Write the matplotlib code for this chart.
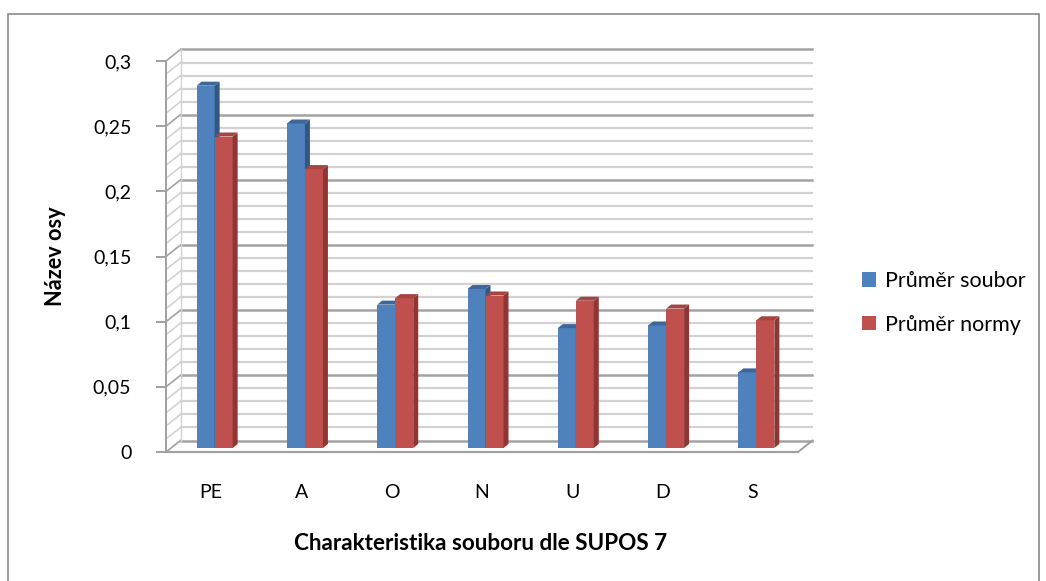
import matplotlib
matplotlib.use("Agg")
import matplotlib.pyplot as plt
from matplotlib.patches import Polygon, Rectangle, Patch
import numpy as np

# data
kategorie = ["PE", "A", "O", "N", "U", "D", "S"]
prumer_soubor = [0.278, 0.249, 0.110, 0.122, 0.092, 0.094, 0.058]
prumer_normy = [0.239, 0.214, 0.115, 0.117, 0.113, 0.107, 0.098]
serie = ["Průměr soubor", "Průměr normy"]
y_ticks = [0, 0.05, 0.1, 0.15, 0.2, 0.25, 0.3]

MODRA = ("#4F81BD", "#34577F", "#3D679A")   # front, side, top
CERVENA = ("#C0504D", "#8A3735", "#A54441")
GRID_MINOR, GRID_MAJOR, OSA = "#d2d2d2", "#a3a3a3", "#a0a0a0"

plt.rcParams.update({"font.family": ["Lato", "DejaVu Sans"], "font.size": 14})

W, H = 1046, 581
fig = plt.figure(figsize=(W / 100, H / 100), dpi=100)
# axes placed on pixel layout of the original
x0, x1, yb, yt = 166, 798, 452, 61
ax = fig.add_axes([x0 / W, 1 - yb / H, (x1 - x0) / W, (yb - yt) / H])
n = len(kategorie)
ax.set_xlim(-0.5, n - 0.5)
ax.set_ylim(0, 0.3)
for s in ax.spines.values():
    s.set_visible(False)

sx = n / (x1 - x0)          # data units per pixel
sy = 0.3 / (yb - yt)
dxw, dyw = 14.5 * sx, 11.5 * sy   # back wall offset
L, R = -0.5, n - 0.5

# back wall + side wall grid
for v in np.arange(0, 0.3001, 0.01):
    major = abs(v / 0.05 - round(v / 0.05)) < 1e-6
    c = GRID_MAJOR if major else GRID_MINOR
    lw = 1.8 if major else 1.6
    ax.plot([L + dxw, R + dxw], [v + dyw, v + dyw], color=c, lw=lw, clip_on=False, zorder=1)
    ax.plot([L, L + dxw], [v, v + dyw], color=c, lw=1.2, clip_on=False, zorder=1)
ax.plot([L + dxw, L + dxw], [dyw, 0.3 + dyw], color=GRID_MINOR, lw=1, clip_on=False, zorder=1)
# floor
ax.plot([L, R], [0, 0], color=OSA, lw=1.6, clip_on=False, zorder=1)
ax.plot([R, R + dxw], [0, dyw], color=OSA, lw=1.4, clip_on=False, zorder=1)
ax.plot([L, L], [0, 0.3], color=OSA, lw=1.4, clip_on=False, zorder=1)

# 3D-looking bars
sirka = 18 * sx
posun_x, posun_y = 3.5 * sx, 4 * sy
hx, hy = 5 * sx, 4 * sy
for k, (hodnoty, barvy) in enumerate([(prumer_soubor, MODRA), (prumer_normy, CERVENA)]):
    xs = np.arange(n) + (k - 0.5) * sirka + posun_x
    ax.bar(xs, hodnoty, width=sirka, bottom=posun_y, color=barvy[0], zorder=3 + k,
           clip_on=False)
    for xc, v in zip(xs, hodnoty):
        xl, xr, yl, yh = xc - sirka / 2, xc + sirka / 2, posun_y, posun_y + v
        ax.add_patch(Polygon([(xr, yl), (xr + hx, yl + hy), (xr + hx, yh + hy), (xr, yh)],
                             closed=True, fc=barvy[1], ec="none", zorder=3 + k, clip_on=False))
        ax.add_patch(Polygon([(xl, yh), (xr, yh), (xr + hx, yh + hy), (xl + hx, yh + hy)],
                             closed=True, fc=barvy[2], ec="none", zorder=3 + k, clip_on=False))

ax.set_yticks(y_ticks)
ax.set_yticklabels([f"{t:g}".replace(".", ",") for t in y_ticks])
ax.tick_params(axis="y", length=7, color=OSA, width=1.4, pad=18)
ax.set_xticks(range(n))
ax.set_xticklabels(kategorie)
ax.tick_params(axis="x", length=0, pad=23)

fig.text(481 / W, 1 - 543 / H, "Charakteristika souboru dle SUPOS 7", ha="center",
         va="center", fontweight="bold", fontsize=16.2)
fig.text(56 / W, 1 - 256 / H, "Název osy", ha="center", va="center", rotation=90,
         fontweight="bold", fontsize=15.7)

ruce = [Patch(fc=MODRA[0]), Patch(fc=CERVENA[0])]
fig.legend(ruce, serie, loc="center left", bbox_to_anchor=(843 / W, 1 - 303 / H),
           frameon=False, handlelength=0.65, handleheight=0.65, handletextpad=0.4,
           labelspacing=1.1, fontsize=15.5)

fig.add_artist(Rectangle((8 / W, -0.05), 1031 / W, 1 - 14 / H + 0.05,
                         transform=fig.transFigure, fill=False, ec="#8a8a8a", lw=1.2))

fig.savefig("out.png", dpi=100)
